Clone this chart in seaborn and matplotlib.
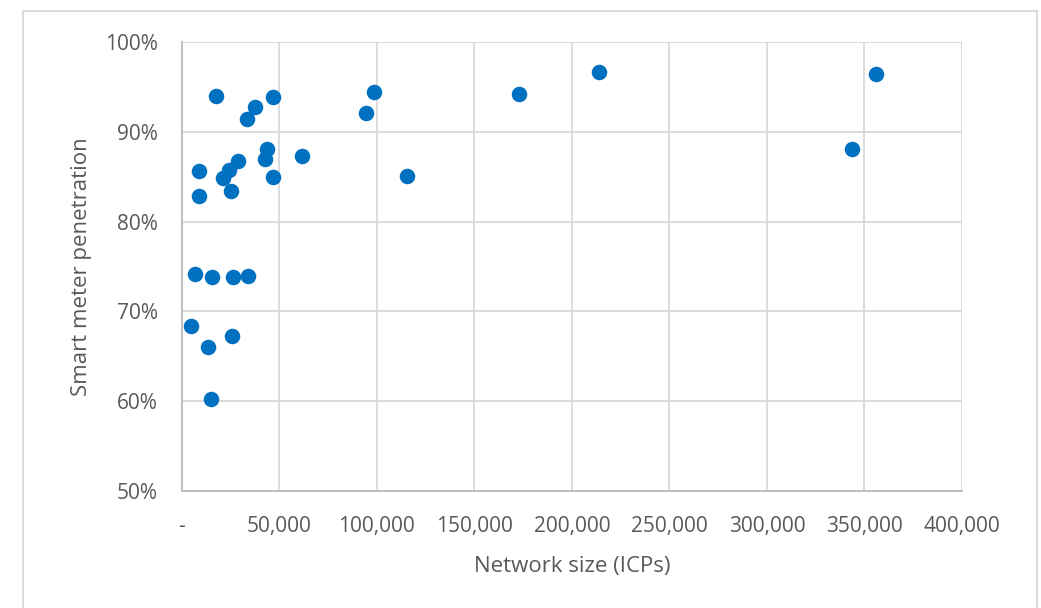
import matplotlib
matplotlib.use("Agg")
import matplotlib.pyplot as plt
from matplotlib.patches import Rectangle
from matplotlib.ticker import FuncFormatter, MultipleLocator
import pandas as pd
import seaborn as sns

# Network size (ICPs) and smart meter penetration (%) per distributor
network_size = [
    17500, 37500, 46600, 33600, 43500, 42600, 61900, 9000, 28700, 24400,
    21300, 46600, 25100, 9000, 6800, 15400, 26400, 34100, 4800, 25900,
    13300, 14800, 98600, 94300, 115500, 173100, 213700, 355700, 343700,
]
penetration = [
    94.0, 92.8, 93.9, 91.4, 88.1, 87.0, 87.3, 85.6, 86.7, 85.7,
    84.9, 85.0, 83.4, 82.9, 74.2, 73.8, 73.8, 73.9, 68.4, 67.3,
    66.0, 60.2, 94.4, 92.1, 85.1, 94.2, 96.7, 96.4, 88.1,
]
x_label = "Network size (ICPs)"
y_label = "Smart meter penetration"

df = pd.DataFrame({x_label: network_size, y_label: penetration})

sns.set_theme(style="white")
plt.rcParams["font.family"] = ["Open Sans", "DejaVu Sans"]

text_color = "#595959"
grid_color = "#d9d9d9"
axis_color = "#bfbfbf"
point_color = "#0070C0"

W, H = 1041, 608
fig = plt.figure(figsize=(W / 100, H / 100), dpi=100)
left, right, top, bottom = 181.7, 962, 42, 491
ax = fig.add_axes([left / W, 1 - bottom / H, (right - left) / W, (bottom - top) / H])

sns.scatterplot(data=df, x=x_label, y=y_label, ax=ax, color=point_color,
                s=125, linewidth=0, zorder=3, clip_on=False)

ax.set_xlim(0, 400000)
ax.set_ylim(50, 100)
ax.xaxis.set_major_locator(MultipleLocator(50000))
ax.yaxis.set_major_locator(MultipleLocator(10))
ax.xaxis.set_major_formatter(FuncFormatter(lambda v, p: "-" if v == 0 else f"{int(v):,}"))
ax.yaxis.set_major_formatter(FuncFormatter(lambda v, p: f"{int(round(v))}%"))

ax.grid(True, color=grid_color, linewidth=1.3)
ax.set_axisbelow(True)
for side in ("top", "right"):
    ax.spines[side].set_visible(False)
for side in ("left", "bottom"):
    ax.spines[side].set_color(axis_color)
    ax.spines[side].set_linewidth(1.4)

ax.tick_params(axis="both", length=0, labelsize=15, labelcolor=text_color)
ax.tick_params(axis="y", pad=17)
ax.tick_params(axis="x", pad=18)

ax.set_xlabel(x_label, fontsize=16, color=text_color)
ax.set_ylabel(y_label, fontsize=16, color=text_color)
ax.xaxis.set_label_coords(0.5, -0.145)
ax.yaxis.set_label_coords(-0.115, 0.5)

# Light frame around the chart area
fig.patches.append(Rectangle((23 / W, -0.05), (1037 - 23) / W, 1.05 - 11 / H,
                             transform=fig.transFigure, fill=False,
                             edgecolor=grid_color, linewidth=1.3))

fig.savefig("out.png", dpi=100, facecolor="white")
